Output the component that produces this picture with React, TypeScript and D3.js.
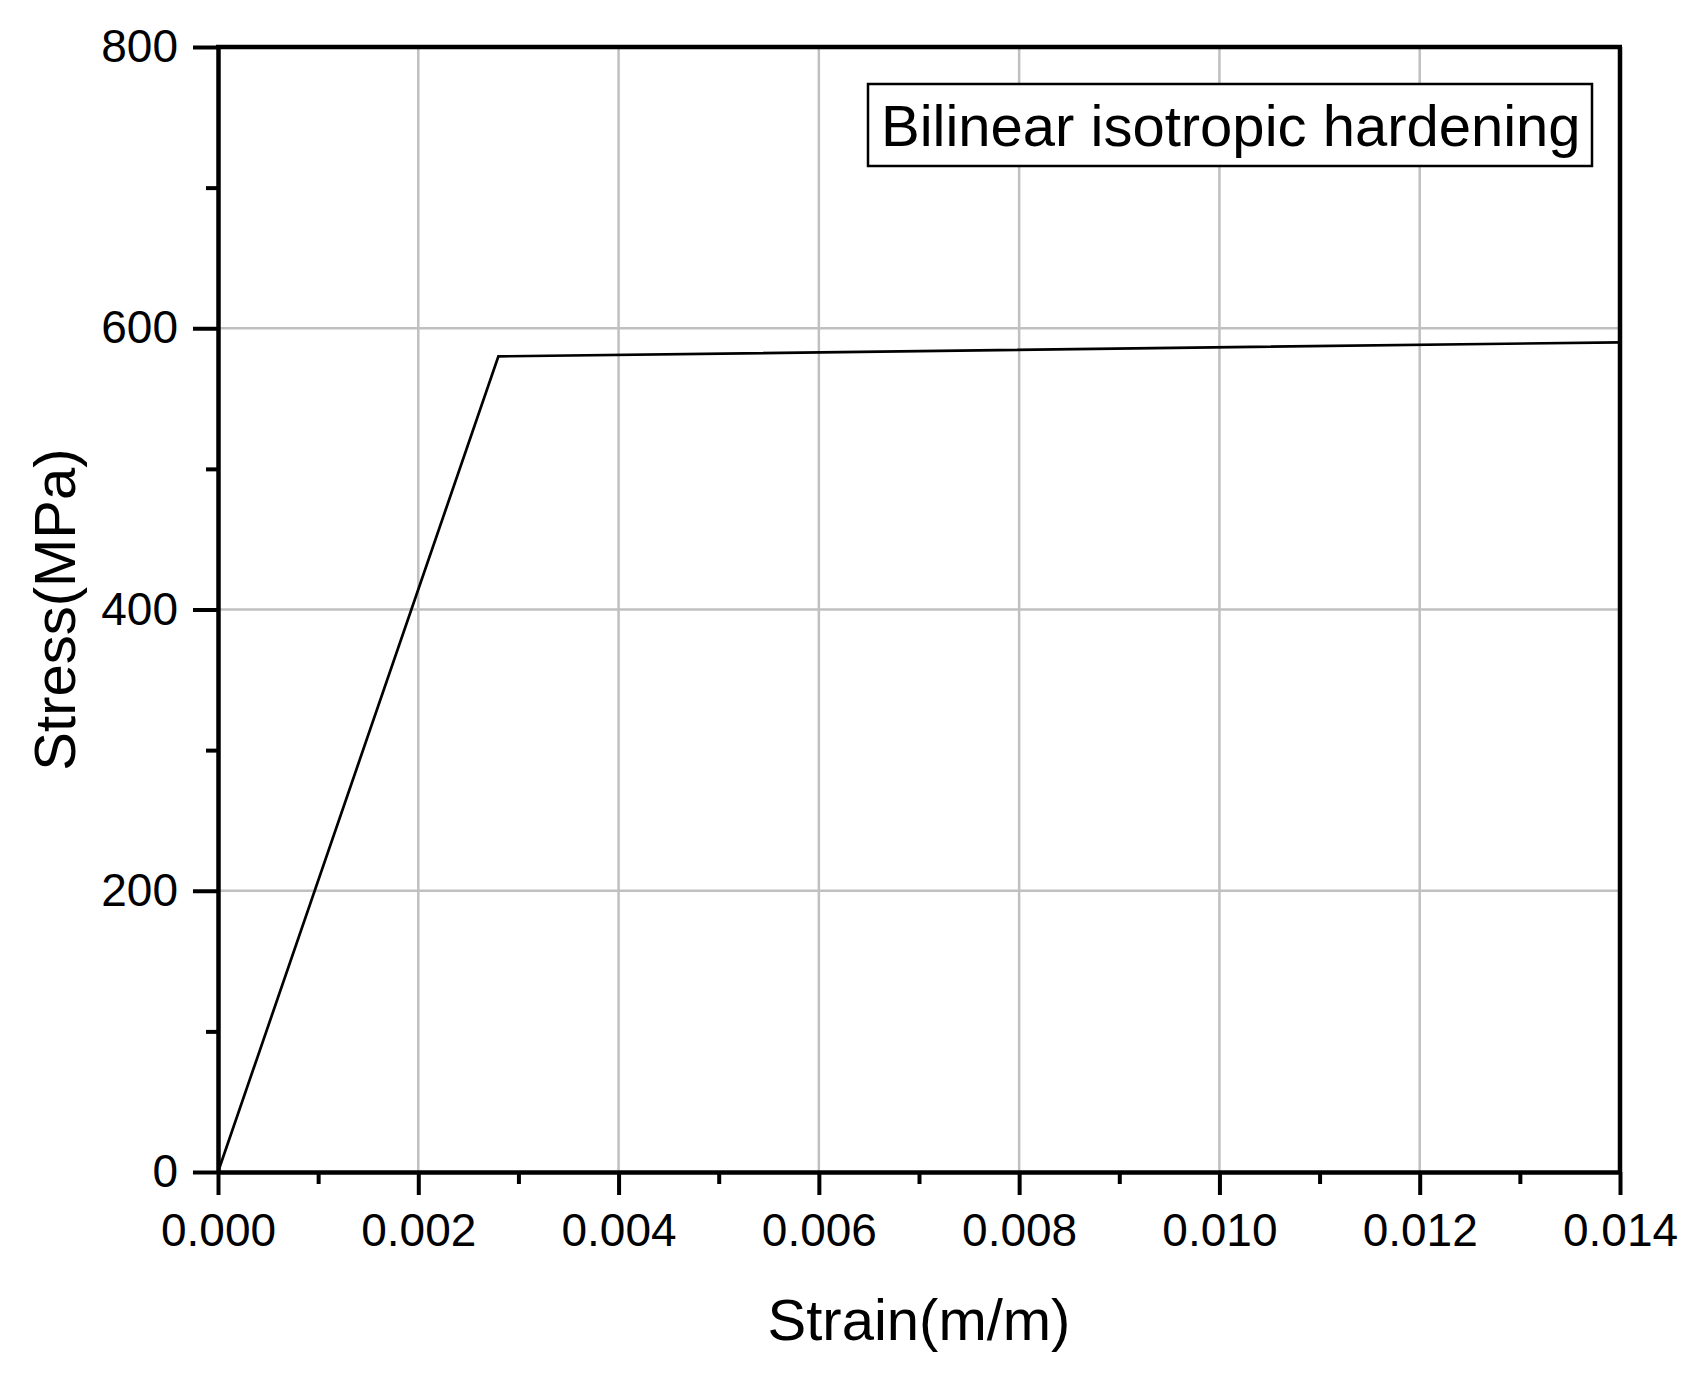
import { useEffect, useRef } from "react";
import * as d3 from "d3";

// bilinear curve points (strain, stress)
const strain: number[] = [0, 0.0028, 0.014];
const stress: number[] = [0, 580, 590];

const xMajorTicks: number[] = [0, 0.002, 0.004, 0.006, 0.008, 0.01, 0.012, 0.014];
const xMinorTicks: number[] = [0.001, 0.003, 0.005, 0.007, 0.009, 0.011, 0.013];
const yMajorTicks: number[] = [0, 200, 400, 600, 800];
const yMinorTicks: number[] = [100, 300, 500, 700];

const legendLabel = "Bilinear isotropic hardening";
const xTitle = "Strain(m/m)";
const yTitle = "Stress(MPa)";

export default function App() {
    const ref = useRef<HTMLDivElement>(null);

    useEffect(() => {
        const svg_width = 1702;
        const svg_height = 1373;
        const margin = { left: 218, right: 82, top: 47, bottom: 201 };
        const graph_width = svg_width - margin.left - margin.right;
        const graph_height = svg_height - margin.top - margin.bottom;
        const font = "'Liberation Sans', Arial, sans-serif";

        const root = d3.select(ref.current)
            .append("svg")
                .attr("width", svg_width)
                .attr("height", svg_height)
                .style("background-color", "white")
                .style("display", "block");

        const g = root.append("g")
            .attr("transform", "translate(" + margin.left + "," + margin.top + ")");

        const x = d3.scaleLinear().domain([0, 0.014]).range([0, graph_width]);
        const y = d3.scaleLinear().domain([0, 800]).range([graph_height, 0]);

        // grid
        g.append("g")
            .selectAll("line")
            .data(xMajorTicks.slice(1, -1))
            .enter().append("line")
                .attr("x1", d => x(d)).attr("x2", d => x(d))
                .attr("y1", 0).attr("y2", graph_height)
                .attr("stroke", "#c0c0c0")
                .attr("stroke-width", 2.5);
        g.append("g")
            .selectAll("line")
            .data(yMajorTicks.slice(1, -1))
            .enter().append("line")
                .attr("x1", 0).attr("x2", graph_width)
                .attr("y1", d => y(d)).attr("y2", d => y(d))
                .attr("stroke", "#c0c0c0")
                .attr("stroke-width", 2.5);

        // curve
        const pts = strain.map((s, i) => [s, stress[i]] as [number, number]);
        g.append("path")
            .datum(pts)
            .attr("fill", "none")
            .attr("stroke", "black")
            .attr("stroke-width", 2.7)
            .attr("d", d3.line<[number, number]>().x(d => x(d[0])).y(d => y(d[1])));

        // frame top + right
        g.append("line")
            .attr("x1", -2).attr("x2", graph_width + 2)
            .attr("y1", 0).attr("y2", 0)
            .attr("stroke", "black").attr("stroke-width", 4.5);
        g.append("line")
            .attr("x1", graph_width).attr("x2", graph_width)
            .attr("y1", 0).attr("y2", graph_height)
            .attr("stroke", "black").attr("stroke-width", 4.5);

        // minor ticks
        g.append("g")
            .attr("transform", "translate(0," + graph_height + ")")
            .call(d3.axisBottom(x).tickValues(xMinorTicks).tickSize(12).tickSizeOuter(0).tickFormat(() => ""))
            .call(s => s.select(".domain").remove())
            .selectAll("line").attr("stroke-width", 4);
        g.append("g")
            .call(d3.axisLeft(y).tickValues(yMinorTicks).tickSize(12).tickSizeOuter(0).tickFormat(() => ""))
            .call(s => s.select(".domain").remove())
            .selectAll("line").attr("stroke-width", 4);

        // major axes
        const xAxis = g.append("g")
            .attr("transform", "translate(0," + graph_height + ")")
            .call(d3.axisBottom(x).tickValues(xMajorTicks).tickSize(23).tickSizeOuter(0)
                .tickPadding(18).tickFormat(d3.format(".3f") as any));
        xAxis.select(".domain").attr("stroke-width", 4.5);
        xAxis.selectAll("line").attr("stroke-width", 4);
        xAxis.selectAll("text")
            .style("font-family", font)
            .style("font-size", "46px")
            .attr("fill", "black");

        const yAxis = g.append("g")
            .call(d3.axisLeft(y).tickValues(yMajorTicks).tickSize(25).tickSizeOuter(0)
                .tickPadding(15).tickFormat(d3.format("d") as any));
        yAxis.select(".domain").attr("stroke-width", 4.5);
        yAxis.selectAll("line").attr("stroke-width", 4);
        yAxis.selectAll("text")
            .style("font-family", font)
            .style("font-size", "46px")
            .attr("fill", "black");

        // legend box
        root.append("rect")
            .attr("x", 868).attr("y", 84)
            .attr("width", 724).attr("height", 82)
            .attr("fill", "white")
            .attr("stroke", "black")
            .attr("stroke-width", 2.5);
        root.append("text")
            .attr("x", 881).attr("y", 146)
            .style("font-family", font)
            .style("font-size", "58px")
            .text(legendLabel);

        // axis titles
        root.append("text")
            .attr("x", margin.left + graph_width / 2)
            .attr("y", 1340)
            .attr("text-anchor", "middle")
            .style("font-family", font)
            .style("font-size", "58px")
            .text(xTitle);
        root.append("text")
            .attr("transform", "translate(75," + (margin.top + graph_height / 2) + ") rotate(-90)")
            .attr("text-anchor", "middle")
            .style("font-family", font)
            .style("font-size", "58px")
            .text(yTitle);

        return () => {
            d3.select(ref.current).selectAll("*").remove();
        };
    }, [ref]);

    return (
        <div ref={ref} style={{ position: "absolute", left: 0, top: 0 }}></div>
    );
}
